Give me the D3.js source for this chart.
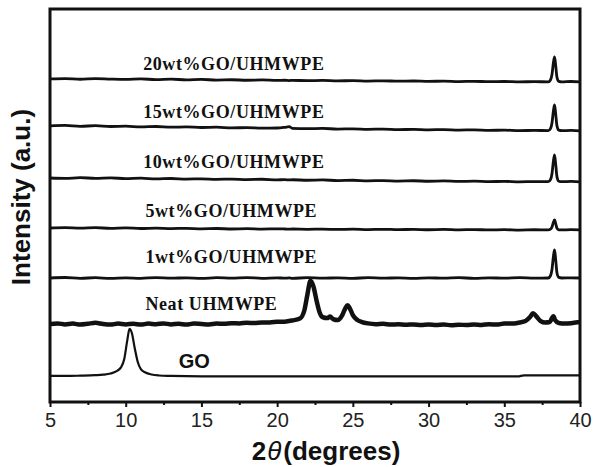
<!DOCTYPE html>
<html>
<head>
<meta charset="utf-8">
<script src="https://cdn.jsdelivr.net/npm/d3@7"></script>
<style>
  body { margin: 0; background: #fff; }
  svg { display: block; }
</style>
</head>
<body>
<svg id="xrd" width="593" height="467"></svg>
<script>
// grid shared by the composite patterns (2theta, degrees)
const gridTheta = [5, 6, 7, 8, 9, 10, 11, 12, 13, 14, 15, 16, 17, 18, 19, 20, 20.5, 20.8,
  21, 22, 23, 24, 25, 26, 27, 28, 29, 30, 31, 32, 33, 34, 35, 36, 37,
  37.9, 38.05, 38.15, 38.25, 38.32, 38.4, 38.48, 38.6, 38.8, 39.4, 40];

const wt20 = [0, 0.4, -0.3, 0.3, -0.2, -0.5, 0, -0.6, -0.2, -0.9, -0.5, -1.1, -0.8, -1.3, -1, -1.5, -1.3, -1.6,
  -1.4, -1.7, -1.5, -2, -1.7, -2.2, -1.9, -2.3, -2.1, -2.5, -2.2, -2.7, -2.4, -2.8, -2.6, -3, -2.7,
  -3, -1, 4.6, 17.3, 22.4, 12.8, 1.6, -2.5, -3, -2.6, -3];
const wt15 = [0, 0.5, -0.4, 0.2, -0.6, -0.3, -1, -0.6, -1.3, -1, -1.6, -1.3, -2, -1.7, -2.3, -2.1, -1.4, -0.8,
  -2.4, -2.8, -2.6, -3.2, -3, -3.5, -3.2, -3.8, -3.5, -4, -3.7, -4.2, -4, -4.5, -4.3, -4.8, -4.5,
  -4.8, -2.7, 3, 16, 21.3, 11.3, 0, -4.3, -4.8, -4.6, -5];
const wt10 = [0, -0.4, 0.3, -0.3, 0.1, -0.6, -0.2, -0.9, -0.5, -1.1, -0.8, -1.4, -1.1, -1.6, -1.3, -1.9, -1.7, -2,
  -1.8, -2.3, -2, -2.6, -2.3, -2.9, -2.6, -3.1, -2.8, -3.3, -3, -3.5, -3.2, -3.7, -3.4, -3.9, -3.6,
  -3.8, -1.6, 4.4, 17.9, 23.4, 13, 1.1, -3.3, -3.8, -3.5, -4];
const wt5 = [0, 0.4, -0.2, 0.3, -0.3, 0.1, -0.5, -0.1, -0.6, -0.3, -0.8, -0.5, -1, -0.7, -1.1, -0.8, -1, -1.2,
  -1, -1.3, -1.1, -1.5, -1.2, -1.6, -1.3, -1.7, -1.4, -1.8, -1.5, -1.9, -1.6, -2, -1.7, -2.1, -1.8,
  -2, -1.2, 1, 6, 8.2, 4.2, -0.2, -1.8, -2, -1.7, -2];
const wt1 = [0, 0.5, -0.3, 0.3, -0.4, 0.2, -0.3, 0.4, -0.2, 0.2, -0.4, 0.3, -0.2, 0.4, -0.3, 0.2, -0.2, 0.1,
  -0.3, 0.3, -0.2, 0.2, -0.3, 0.3, -0.2, 0.2, -0.4, 0.2, -0.2, 0.3, -0.3, 0.2, -0.2, 0.3, -0.2,
  0, 2.3, 8.6, 22.8, 28.5, 17.7, 5.1, 0.6, 0, 0.2, 0];

// neat UHMWPE has its own sampling (broad 110 / 200 reflections)
const neatTheta = [5, 5.5, 6, 6.5, 7, 7.5, 8, 8.5, 9, 9.5, 10, 10.5, 11, 11.5, 12, 12.5, 13, 13.5, 14, 14.5,
  15, 15.5, 16, 16.5, 17, 17.5, 18, 18.5, 19, 19.5, 20, 20.5, 21, 21.5, 21.8, 22, 22.2, 22.4, 22.6, 22.8,
  23, 23.3, 23.5, 23.7, 24, 24.3, 24.5, 24.65, 24.8, 25, 25.3, 25.6, 26, 26.5, 27, 27.5, 28, 28.5, 29, 29.5,
  30, 30.5, 31, 31.5, 32, 32.5, 33, 33.5, 34, 34.5, 35, 35.5, 36, 36.4, 36.7, 36.9, 37.1, 37.4, 37.7,
  38, 38.15, 38.25, 38.35, 38.6, 39, 39.5, 40];
const neat = [0, 0.6, -0.4, 0.4, -0.6, 0.2, 1.2, 0, -0.6, 0.4, -0.4, 0.2, -0.6, 0.4, -0.2, 0.6, -0.4, 0.2, -0.6, 0.4,
  0, -0.4, 0.4, 0.2, 0.8, 0.6, 1.2, 1, 1.6, 1.6, 2.2, 2.4, 3.6, 5.5, 14, 30, 44, 38, 24, 12,
  7, 6, 7.5, 5, 4, 9, 16, 19, 16, 9, 4, 2, 0.6, -0.2, 0.2, -0.6, -0.2, -0.8, -0.4, -1,
  -0.6, -1, -0.6, -1.2, -0.8, -1, -0.6, -1, -0.2, -0.6, 0.4, 0.4, 1.5, 3, 7, 11, 8, 3, 1.5,
  2, 6, 8, 4, 1, 0.4, 1, 2];

const goTheta = [5, 6, 7, 8, 8.5, 9, 9.4, 9.7, 9.9, 10.1, 10.25, 10.4, 10.6, 10.8, 11, 11.3, 11.7, 12.2,
  13, 15, 20, 25, 30, 35.9, 36.3, 40];
const go = [0, 0, 0.3, 0.8, 1.3, 2.5, 5, 9, 17, 36, 48, 44, 28, 14, 7, 3.5, 1.5, 0.5,
  0, -0.5, -0.5, -0.5, -0.5, -0.5, 0.6, 0.6];

const names = ["GO", "Neat UHMWPE", "1wt%GO/UHMWPE", "5wt%GO/UHMWPE", "10wt%GO/UHMWPE", "15wt%GO/UHMWPE", "20wt%GO/UHMWPE"];
const offsets = [26.5, 79.4, 126.2, 177.1, 228, 281, 328.8];
const xTicks = [5, 10, 15, 20, 25, 30, 35, 40];
const xMinor = [7.5, 12.5, 17.5, 22.5, 27.5, 32.5, 37.5];
// where each label sits: [2theta, intensity]
const labelAt = [[13.5, 34.6], [11.3, 93.7], [11.3, 141.5], [11.3, 188], [11.15, 238], [11.15, 289], [11.15, 338]];

const series = [
  { theta: goTheta, y: go },
  { theta: neatTheta, y: neat },
  { theta: gridTheta, y: wt1 },
  { theta: gridTheta, y: wt5 },
  { theta: gridTheta, y: wt10 },
  { theta: gridTheta, y: wt15 },
  { theta: gridTheta, y: wt20 },
];

const W = 593, H = 467;
const margin = { top: 9, right: 13, bottom: 65, left: 50 };
const svg = d3.select("svg#xrd");

const x = d3.scaleLinear().domain([5, 40]).range([margin.left, W - margin.right]);
const y = d3.scaleLinear().domain([0, 400]).range([H - margin.bottom, margin.top]);

const sans = "'Liberation Sans', Arial, sans-serif";
const serif = "'Liberation Serif', 'Times New Roman', serif";

// the traces
const line = d3.line()
  .x((d) => x(d[0]))
  .y((d) => y(d[1]))
  .curve(d3.curveMonotoneX);

svg.append("g")
  .selectAll("path")
  .data(series)
  .join("path")
  .attr("d", (s, i) => line(s.theta.map((t, j) => [t, s.y[j] + offsets[i]])))
  .attr("fill", "none")
  .attr("stroke", "#111")
  .attr("stroke-width", (_s, i) => (i == 1 ? 4.5 : i == 0 ? 2.2 : 2.8))
  .attr("stroke-linejoin", "round");

// trace labels
svg.append("g")
  .selectAll("text")
  .data(names)
  .join("text")
  .attr("x", (_d, i) => x(labelAt[i][0]))
  .attr("y", (_d, i) => y(labelAt[i][1]))
  .attr("font-family", (_d, i) => (i == 0 ? sans : serif))
  .attr("font-weight", "bold")
  .attr("font-size", (_d, i) => (i == 0 ? 20 : 18))
  .attr("letter-spacing", (_d, i) => (i == 0 ? 0 : 0.6))
  .attr("fill", "#111")
  .text((d) => d);

// x axis: major + minor ticks, outward
const xAxis = svg.append("g")
  .attr("transform", `translate(0, ${H - margin.bottom})`)
  .call(d3.axisBottom(x).tickValues(xTicks).tickSize(5).tickPadding(6).tickFormat(d3.format("d")));
xAxis.select(".domain").remove();
xAxis.selectAll("line").attr("stroke", "#111").attr("stroke-width", 2);
xAxis.selectAll("text")
  .attr("font-family", sans)
  .attr("font-size", 20)
  .attr("fill", "#222");

const minor = svg.append("g")
  .attr("transform", `translate(0, ${H - margin.bottom})`)
  .call(d3.axisBottom(x).tickValues(xMinor).tickSize(3).tickFormat(""));
minor.select(".domain").remove();
minor.selectAll("line").attr("stroke", "#111").attr("stroke-width", 2);

// frame
svg.append("rect")
  .attr("x", margin.left)
  .attr("y", margin.top)
  .attr("width", W - margin.left - margin.right)
  .attr("height", H - margin.top - margin.bottom)
  .attr("fill", "none")
  .attr("stroke", "#111")
  .attr("stroke-width", 3);

// axis titles
const xTitle = svg.append("text")
  .attr("x", 326)
  .attr("y", 460)
  .attr("text-anchor", "middle")
  .attr("font-family", sans)
  .attr("font-size", 26)
  .attr("font-weight", "bold")
  .attr("fill", "#111");
xTitle.append("tspan").text("2");
xTitle.append("tspan").attr("font-style", "italic").attr("font-weight", "normal").attr("dx", 1).text("θ");
xTitle.append("tspan").attr("dx", 2).text("(degrees)");

svg.append("text")
  .attr("transform", "translate(29.5, 197) rotate(-90)")
  .attr("text-anchor", "middle")
  .attr("font-family", sans)
  .attr("font-size", 26)
  .attr("font-weight", "bold")
  .attr("fill", "#111")
  .text("Intensity (a.u.)");
</script>
</body>
</html>
